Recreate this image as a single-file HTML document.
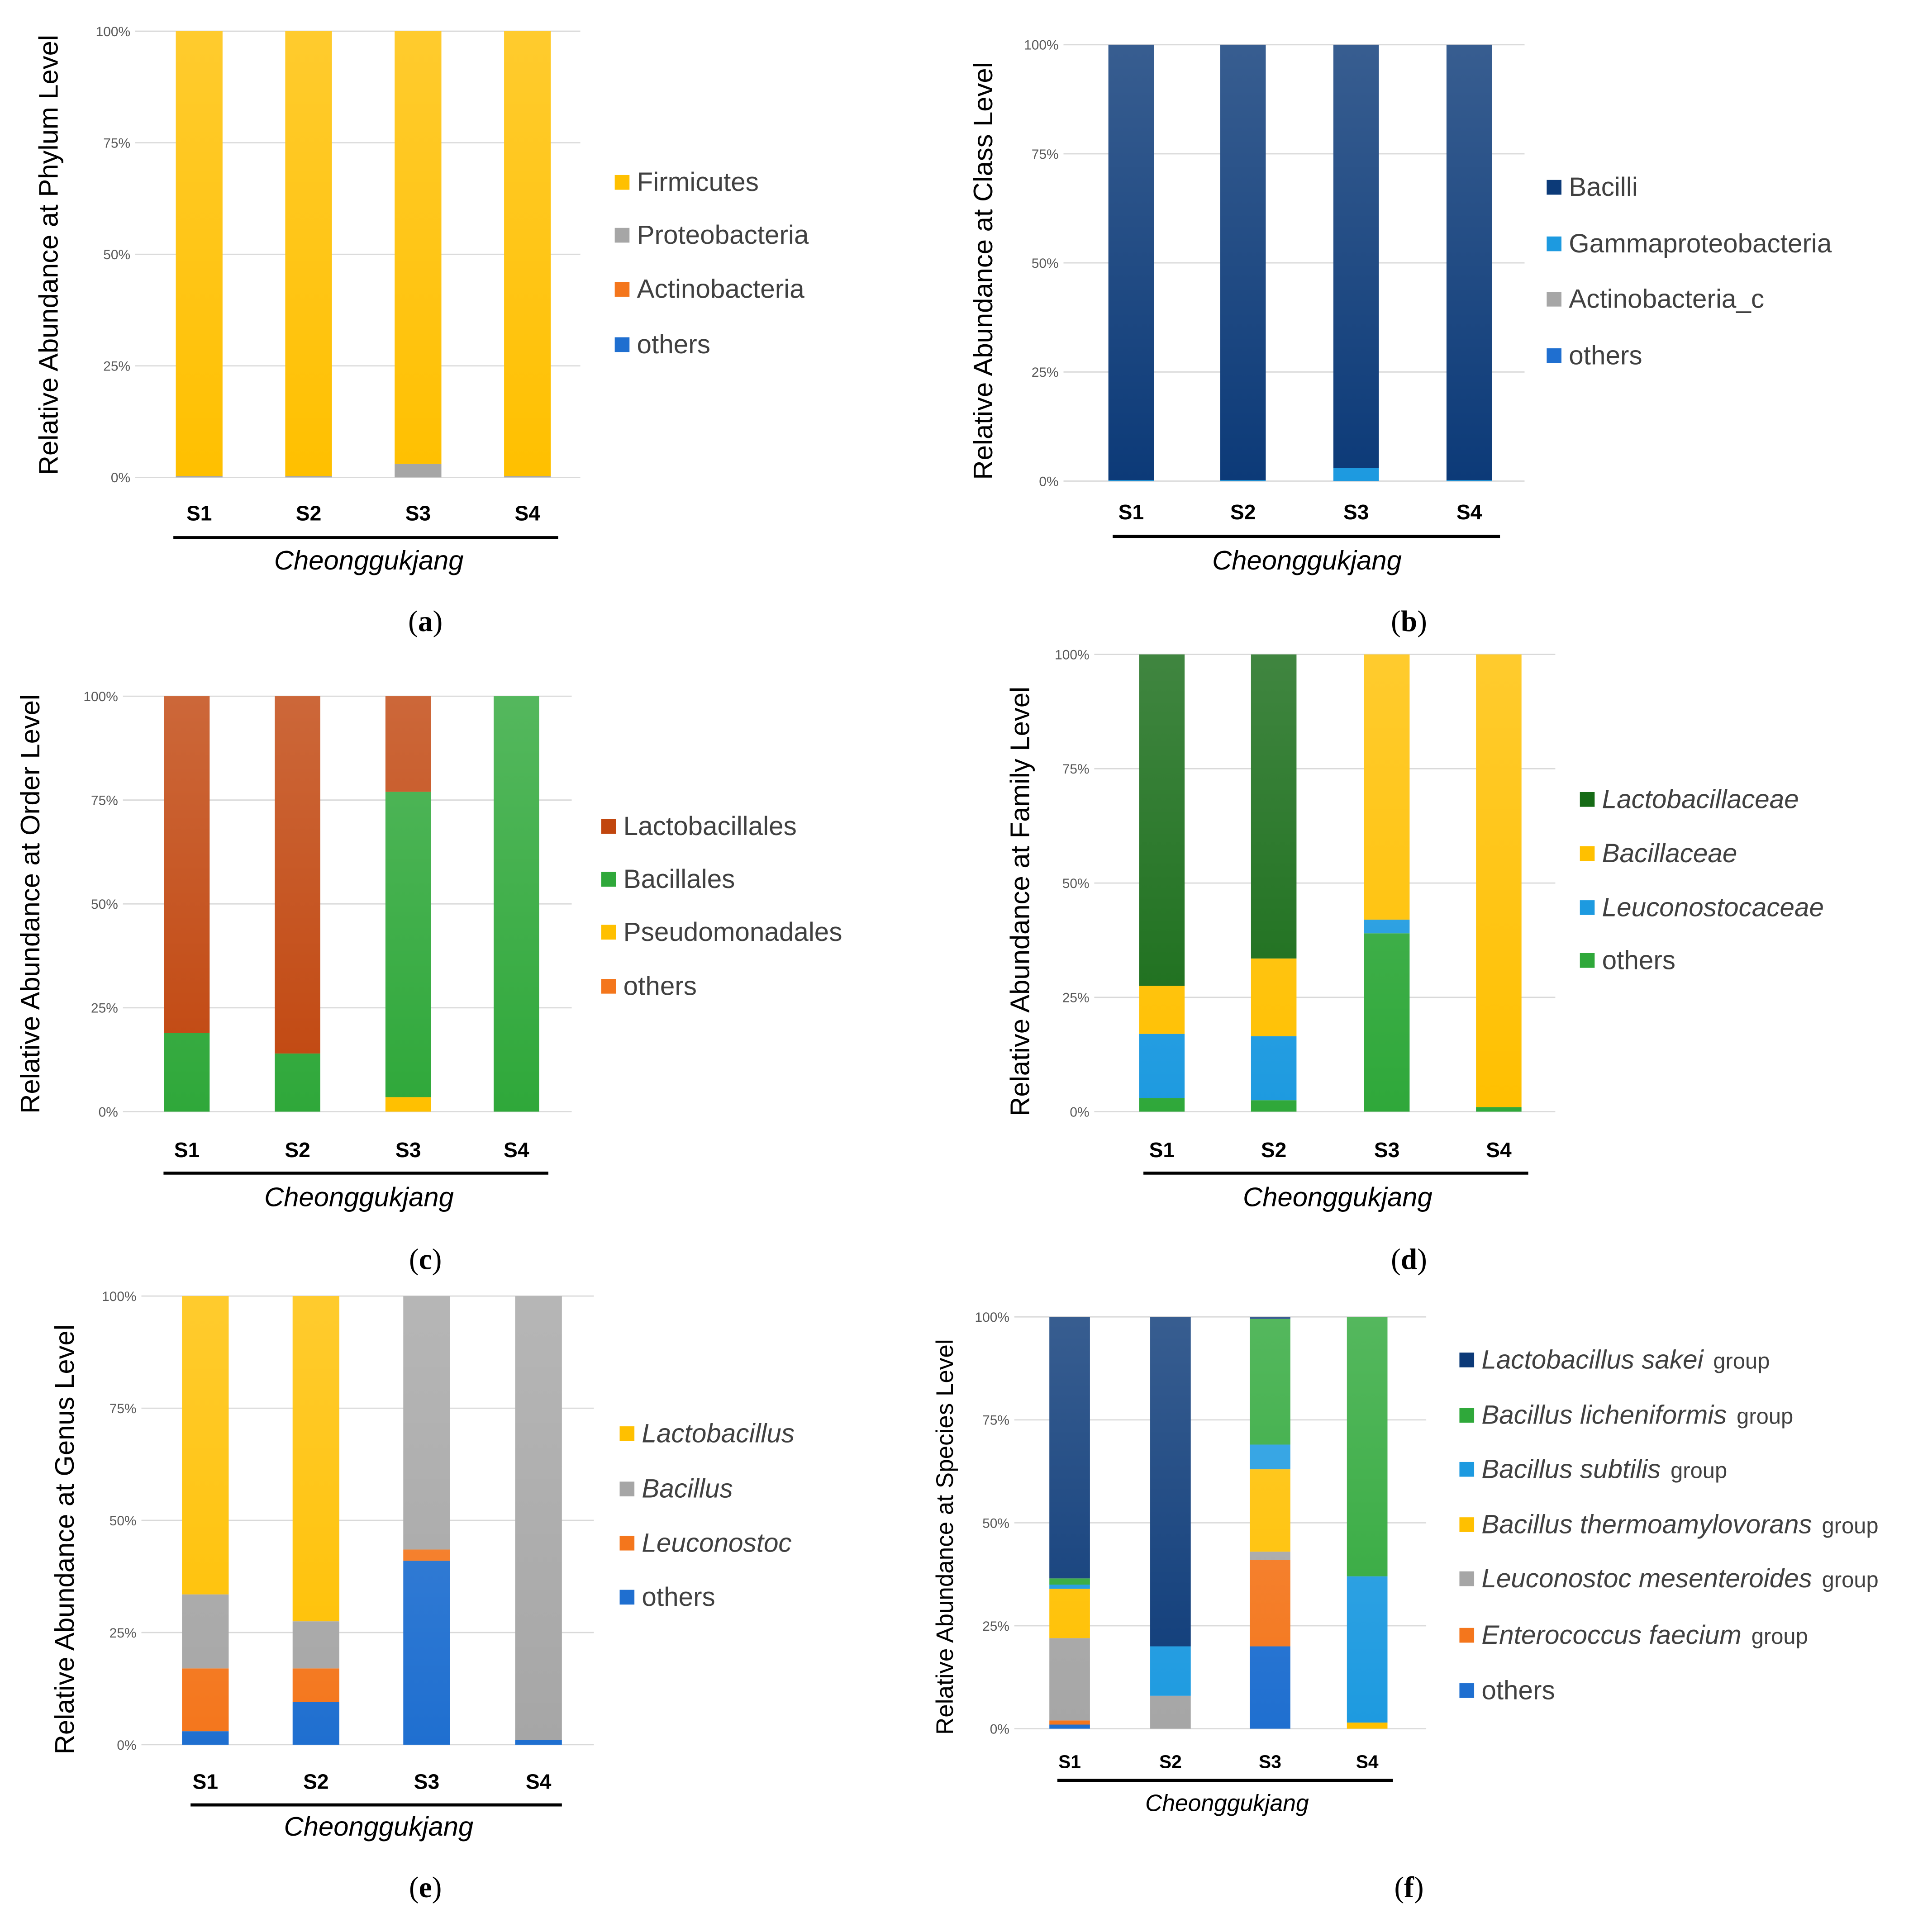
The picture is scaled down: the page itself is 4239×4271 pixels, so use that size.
<!DOCTYPE html>
<html><head><meta charset="utf-8"><style>
html,body{margin:0;padding:0;background:#fff;}
svg{display:block;}
</style></head><body>
<svg id="fig" xmlns="http://www.w3.org/2000/svg" width="4239" height="4271" viewBox="0 0 1560 1571">
<defs>
<linearGradient id="shine" x1="0" y1="0" x2="0" y2="1">
<stop offset="0" stop-color="#fff" stop-opacity="0.18"/>
<stop offset="1" stop-color="#fff" stop-opacity="0"/>
</linearGradient>
</defs>
</svg>
<script>
const categories = ["S1","S2","S3","S4"];
const yTicks = [0,25,50,75,100];
const yTickLabels = ["0%","25%","50%","75%","100%"];

// Panel data: series listed bottom -> top, values per sample (percent)
const aSeries = ["others","Actinobacteria","Proteobacteria","Firmicutes"];
const aValues = [[0,0,0,0],[0,0,0,0],[0.3,0.3,3,0.3],[99.7,99.7,97,99.7]];
const bSeries = ["others","Actinobacteria_c","Gammaproteobacteria","Bacilli"];
const bValues = [[0,0,0,0],[0,0,0,0],[0.2,0.2,3,0.2],[99.8,99.8,97,99.8]];
const cSeries = ["others","Pseudomonadales","Bacillales","Lactobacillales"];
const cValues = [[0,0,0,0],[0,0,3.5,0],[19,14,73.5,100],[81,86,23,0]];
const dSeries = ["others","Leuconostocaceae","Bacillaceae","Lactobacillaceae"];
const dValues = [[3,2.5,39,1],[14,14,3,0],[10.5,17,58,99],[72.5,66.5,0,0]];
const eSeries = ["others","Leuconostoc","Bacillus","Lactobacillus"];
const eValues = [[3,9.5,41,1],[14,7.5,2.5,0],[16.5,10.5,56.5,99],[66.5,72.5,0,0]];
const fSeries = ["others","Enterococcus faecium","Leuconostoc mesenteroides","Bacillus thermoamylovorans","Bacillus subtilis","Bacillus licheniformis","Lactobacillus sakei"];
const fValues = [[1,0,20,0],[1,0,21,0],[20,8,2,0],[12,0,20,1.5],[1,12,6,35.5],[1.5,0,30.5,63],[63.5,80,0.5,0]];

const NS="http://www.w3.org/2000/svg";
const svg=document.getElementById('fig');
function mk(tag,attrs,parent){const e=document.createElementNS(NS,tag);for(const k in attrs)e.setAttribute(k,attrs[k]);(parent||svg).appendChild(e);return e;}

const panels=[
 {id:"a",series:aSeries,values:aValues,colors:["#1f6fd0","#f4761c","#a6a6a6","#ffc000"],y0:388,y1:25,gx0:110,gx1:472,cx:[162,251,340,429],bw:38,catY:417,lineY:437,lx0:141,lx1:454,chX:300,chY:456,lab:"a",labX:346,labY:505,title:"Relative Abundance at Phylum Level",tX:40,tY:207,tFs:22,legX:500,legY:[148,191,235,280],legOrder:[3,2,1,0],italic:false,catFs:17,chFs:22},
 {id:"b",series:bSeries,values:bValues,colors:["#1f6fd0","#a6a6a6","#1d9ae0","#0c3a78"],y0:391,y1:36,gx0:865,gx1:1240,cx:[920,1011,1103,1195],bw:37,catY:416,lineY:436,lx0:905,lx1:1220,chX:1063,chY:456,lab:"b",labX:1146,labY:505,title:"Relative Abundance at Class Level",tX:800,tY:220,tFs:22,legX:1258,legY:[152,198,243,289],legOrder:[3,2,1,0],italic:false,catFs:17,chFs:22},
 {id:"c",series:cSeries,values:cValues,colors:["#f4761c","#ffc000","#2fa83a","#c1460e"],y0:904,y1:566,gx0:100,gx1:465,cx:[152,242,332,420],bw:37,catY:935,lineY:954,lx0:133,lx1:446,chX:292,chY:974,lab:"c",labX:346,labY:1024,title:"Relative Abundance at Order Level",tX:25,tY:735,tFs:22,legX:489,legY:[672,715,758,802],legOrder:[3,2,1,0],italic:false,catFs:17,chFs:22},
 {id:"d",series:dSeries,values:dValues,colors:["#2fa83a","#1d9ae0","#ffc000","#166b16"],y0:904,y1:532,gx0:890,gx1:1265,cx:[945,1036,1128,1219],bw:37,catY:935,lineY:954,lx0:930,lx1:1243,chX:1088,chY:974,lab:"d",labX:1146,labY:1024,title:"Relative Abundance at Family Level",tX:830,tY:733,tFs:22,legX:1285,legY:[650,694,738,781],legOrder:[3,2,1,0],italic:true,catFs:17,chFs:22},
 {id:"e",series:eSeries,values:eValues,colors:["#1f6fd0","#f4761c","#a6a6a6","#ffc000"],y0:1419,y1:1054,gx0:115,gx1:483,cx:[167,257,347,438],bw:38,catY:1449,lineY:1468,lx0:155,lx1:457,chX:308,chY:1486,lab:"e",labX:346,labY:1535,title:"Relative Abundance at Genus Level",tX:53,tY:1252,tFs:22,legX:504,legY:[1166,1211,1255,1299],legOrder:[3,2,1,0],italic:true,catFs:17,chFs:22},
 {id:"f",series:fSeries,values:fValues,colors:["#1f6fd0","#f4761c","#a6a6a6","#ffc000","#1d9ae0","#2fa83a","#0c3a78"],y0:1406,y1:1071,gx0:825,gx1:1160,cx:[870,952,1033,1112],bw:33,catY:1432,lineY:1448,lx0:860,lx1:1133,chX:998,chY:1466,lab:"f",labX:1146,labY:1535,title:"Relative Abundance at Species Level",tX:768,tY:1250,tFs:19.5,legX:1187,legY:[1106,1151,1195,1240,1284,1330,1375],legOrder:[6,5,4,3,2,1,0],italic:true,group:true,catFs:15,chFs:19}
];

panels.forEach(p=>{
 const g=mk('g',{});
 
 
 const yScale=v=>p.y0-(v/100)*(p.y0-p.y1);
 yTicks.forEach((t,i)=>{
  const gl=mk('line',{x1:p.gx0,x2:p.gx1,y1:yScale(t),y2:yScale(t),stroke:"#d9d9d9","stroke-width":1},g);
  
  
  const tl=mk('text',{x:p.gx0-4,y:yScale(t)+4,"text-anchor":"end","font-family":"Liberation Sans, sans-serif","font-size":11,fill:"#595959"},g);
  tl.textContent=yTickLabels[i];
  
  
 });
 categories.forEach((c,ci)=>{
  let acc=0;
  p.series.forEach((s,si)=>{
   const v=p.values[si][ci];
   if(v<=0){return;}
   const r=mk('rect',{x:p.cx[ci]-p.bw/2,y:yScale(acc+v),width:p.bw,height:yScale(acc)-yScale(acc+v),fill:p.colors[si]},g);
   
   
   acc+=v;
  });
  const sh=mk('rect',{x:p.cx[ci]-p.bw/2,y:yScale(acc),width:p.bw,height:yScale(0)-yScale(acc),fill:"url(#shine)"},g);
  
  
  const cl=mk('text',{x:p.cx[ci],y:p.catY+6,"text-anchor":"middle","font-family":"Liberation Sans, sans-serif","font-size":p.catFs,"font-weight":"bold",fill:"#000"},g);
  cl.textContent=c;
  
  
 });
 const ln=mk('line',{x1:p.lx0,x2:p.lx1,y1:p.lineY,y2:p.lineY,stroke:"#000","stroke-width":2.5},g);
 
 
 const ch=mk('text',{x:p.chX,y:p.chY+7,"text-anchor":"middle","font-family":"Liberation Sans, sans-serif","font-size":p.chFs,"font-style":"italic",fill:"#000"},g);
 ch.textContent="Cheonggukjang";
 
 
 const lb=mk('text',{x:p.labX,y:p.labY+8,"text-anchor":"middle","font-family":"Liberation Serif, serif","font-size":24,fill:"#000"},g);
 
 
 const l1=mk('tspan',{},lb); l1.textContent="(";
 const l2=mk('tspan',{"font-weight":"bold"},lb); l2.textContent=p.lab;
 const l3=mk('tspan',{},lb); l3.textContent=")";
 const yt=mk('text',{x:0,y:0,transform:`translate(${p.tX+7},${p.tY}) rotate(-90)`,"text-anchor":"middle","font-family":"Liberation Sans, sans-serif","font-size":p.tFs,fill:"#000"},g);
 yt.textContent=p.title;
 
 
 p.legOrder.forEach((si,li)=>{
  const y=p.legY[li];
  const sq=mk('rect',{x:p.legX,y:y-6,width:12,height:12,fill:p.colors[si]},g);
  
  
  const t=mk('text',{x:p.legX+18,y:y+7,"font-family":"Liberation Sans, sans-serif","font-size":21.5,fill:"#404040"},g);
  
  
  const name=p.series[si];
  const it=p.italic && name!=="others";
  const s1=mk('tspan',{"font-style":it?"italic":"normal"},t);
  s1.textContent=name;
  if(p.group && name!=="others"){
   const s2=mk('tspan',{"font-size":18,dx:8},t);
   s2.textContent="group";
  }
 });
});
</script>
</body></html>
